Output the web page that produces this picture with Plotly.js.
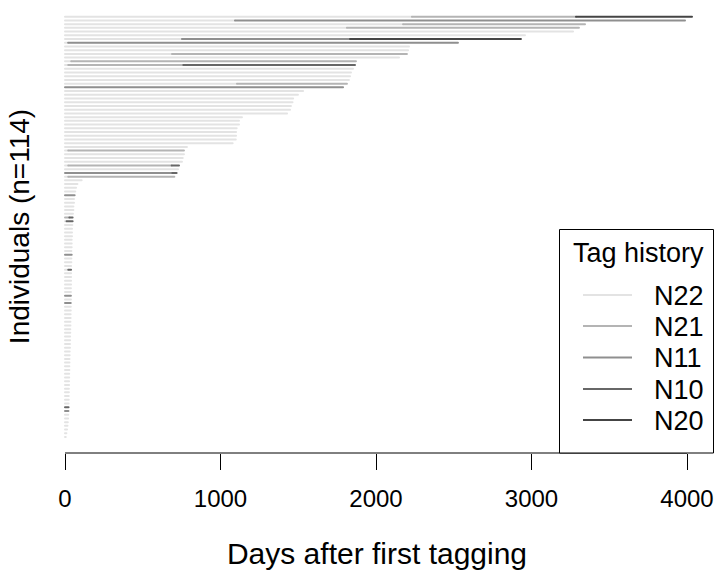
<!DOCTYPE html>
<html><head><meta charset="utf-8">
<script src="https://cdn.plot.ly/plotly-3.0.1.min.js"></script>
<style>
html,body{margin:0;padding:0;background:#fff}
#chart{width:717px;height:579px}
.scatterlayer .js-line{stroke-linecap:round}
</style>
</head><body><div id="chart"></div>
<script>
// Tag types (legend order)
const tagNames = ["N22", "N21", "N11", "N10", "N20"];
const tagColors = ["#e3e3e3", "#b4b4b4", "#8f8f8f", "#676767", "#444444"];

// Individuals, top (longest) to bottom: sequence of tags worn
const tagHistory = [
  ["N22","N21","N20"], ["N22","N11"], ["N22","N21"], ["N22","N21"], ["N22"], ["N22"],
  ["N22","N11","N20"], ["N22","N11"], ["N22"], ["N22"], ["N22","N21"], ["N22"],
  ["N22","N21"], ["N22","N21","N10"], ["N22"], ["N22"], ["N22"], ["N22"],
  ["N22","N21"], ["N11"], ["N22"], ["N22"], ["N22"], ["N22"],
  ["N22"], ["N22"], ["N22"], ["N22"], ["N22"], ["N22"],
  ["N22"], ["N22"], ["N22"], ["N22"], ["N22"], ["N22"],
  ["N22","N21"], ["N22"], ["N22"], ["N22"], ["N22","N21","N10"], ["N22"],
  ["N11","N10"], ["N22","N21"], ["N22"], ["N22"], ["N22"], ["N22"],
  ["N11"], ["N22"], ["N22"], ["N22"], ["N22"], ["N22"],
  ["N21","N10"], ["N22","N10"], ["N22"], ["N22"], ["N22"], ["N22"],
  ["N22"], ["N22"], ["N22"], ["N22"], ["N11"], ["N22"],
  ["N22"], ["N22"], ["N22","N10"], ["N22"], ["N22"], ["N22"],
  ["N22"], ["N22"], ["N22"], ["N11"], ["N22"], ["N11"],
  ["N22"], ["N22"], ["N22"], ["N22"], ["N22"], ["N22"],
  ["N22"], ["N22"], ["N22"], ["N22"], ["N22"], ["N22"],
  ["N22"], ["N22"], ["N22"], ["N22"], ["N22"], ["N22"],
  ["N22"], ["N22"], ["N22"], ["N22"], ["N22"], ["N22"],
  ["N22"], ["N22"], ["N22"], ["N10"], ["N11"], ["N22"],
  ["N22"], ["N22"], ["N22"], ["N22"], ["N22"], ["N22"]
];

// Days at which each tag period starts/ends (first = 0, last = final record)
const switchDays = [
  [0,2231,3286,4032], [0,1093,3987], [0,2174,3344], [0,1813,3305], [0,3267], [0,2958],
  [0,752,1833,2932], [0,20,2527], [0,2212], [0,2206], [0,688,2199], [0,2148],
  [0,40,1871], [0,21,761,1865], [0,1852], [0,1839], [0,1833], [0,1826],
  [0,1106,1813], [0,1788], [0,1531], [0,1498], [0,1467], [0,1463],
  [0,1453], [0,1447], [0,1428], [0,1138], [0,1119], [0,1119],
  [0,1104], [0,1100], [0,1100], [0,1098], [0,1078], [0,784],
  [0,21,765], [0,765], [0,757], [0,752], [0,21,686,733], [0,727],
  [0,690,718], [0,21,703], [0,107], [0,80], [0,71], [0,66],
  [0,62], [0,58], [0,58], [0,54], [0,54], [0,51],
  [0,28,49], [0,10,49], [0,47], [0,45], [0,45], [0,45],
  [0,43], [0,43], [0,43], [0,41], [0,43], [0,41],
  [0,41], [0,39], [0,21,39], [0,39], [0,39], [0,39],
  [0,39], [0,38], [0,38], [0,38], [0,38], [0,37],
  [0,37], [0,37], [0,36], [0,36], [0,35], [0,35],
  [0,34], [0,34], [0,33], [0,33], [0,32], [0,32],
  [0,30], [0,30], [0,29], [0,29], [0,28], [0,28],
  [0,27], [0,27], [0,26], [0,26], [0,25], [0,25],
  [0,24], [0,24], [0,23], [0,23], [0,22], [0,21],
  [0,20], [0,18], [0,16], [0,13], [0,9], [0,5]
];

const xTicks = [0, 1000, 2000, 3000, 4000];
const nInd = tagHistory.length;

const traces = tagNames.map((tag, k) => {
  const x = [], y = [];
  tagHistory.forEach((seq, i) => {
    const row = nInd - i;
    seq.forEach((t, j) => {
      if (t === tag) {
        x.push(switchDays[i][j], switchDays[i][j + 1], null);
        y.push(row, row, null);
      }
    });
  });
  return {
    type: "scatter", mode: "lines", name: tag, x: x, y: y,
    line: {color: tagColors[k], width: 2}, connectgaps: false,
    hoverinfo: "skip", showlegend: false
  };
});

// Pixel helpers for the legend box (paper coordinates)
const W = 717, H = 579, mL = 40, mR = 3, mT = 0, mB = 126;
const pw = W - mL - mR, ph = H - mT - mB;
const px = v => (v - mL) / pw;
const py = v => (H - mB - v) / ph;

const legY = [295, 326, 357.5, 389, 420];
const shapes = [
  {type: "line", xref: "x", yref: "paper", x0: xTicks[0], x1: xTicks[xTicks.length - 1], y0: 0, y1: 0,
   line: {color: "#000", width: 1}},
  {type: "rect", xref: "paper", yref: "paper", x0: px(559.5), x1: px(713.5), y0: 0, y1: py(229.5),
   fillcolor: "#fff", line: {color: "#000", width: 1}, layer: "above"}
];
const annotations = [
  {xref: "paper", yref: "paper", x: px(638), y: py(253), text: "Tag history", showarrow: false,
   xanchor: "center", yanchor: "middle", font: {size: 27, color: "#000"}}
];
tagNames.forEach((tag, k) => {
  shapes.push({type: "line", xref: "paper", yref: "paper", x0: px(583), x1: px(632), y0: py(legY[k]), y1: py(legY[k]),
    line: {color: tagColors[k], width: 2}, layer: "above"});
  annotations.push({xref: "paper", yref: "paper", x: px(652), y: py(legY[k] + 1), text: tag, showarrow: false,
    xanchor: "left", yanchor: "middle", font: {size: 27, color: "#000"}});
});

const layout = {
  width: W, height: H,
  margin: {l: mL, r: mR, t: mT, b: mB, pad: 0},
  paper_bgcolor: "#fff", plot_bgcolor: "#fff",
  font: {family: "Liberation Sans, Arial, sans-serif", color: "#000"},
  showlegend: false,
  xaxis: {
    range: [-160.8, 4173.6], tickvals: xTicks, ticktext: xTicks.map(String),
    ticks: "outside", ticklen: 16, tickwidth: 1, tickcolor: "#000",
    tickfont: {size: 24}, ticklabelstandoff: 8,
    showgrid: false, zeroline: false, showline: false,
    title: {text: "Days after first tagging", font: {size: 30}, standoff: 32}
  },
  yaxis: {
    range: [-3.3, 118.49], showticklabels: false, ticks: "", showgrid: false, zeroline: false, showline: false,
    title: {text: "Individuals (n=114)", font: {size: 28}, standoff: 1}
  },
  shapes: shapes,
  annotations: annotations
};

Plotly.newPlot("chart", traces, layout, {displayModeBar: false, staticPlot: true});
</script>
</body></html>
